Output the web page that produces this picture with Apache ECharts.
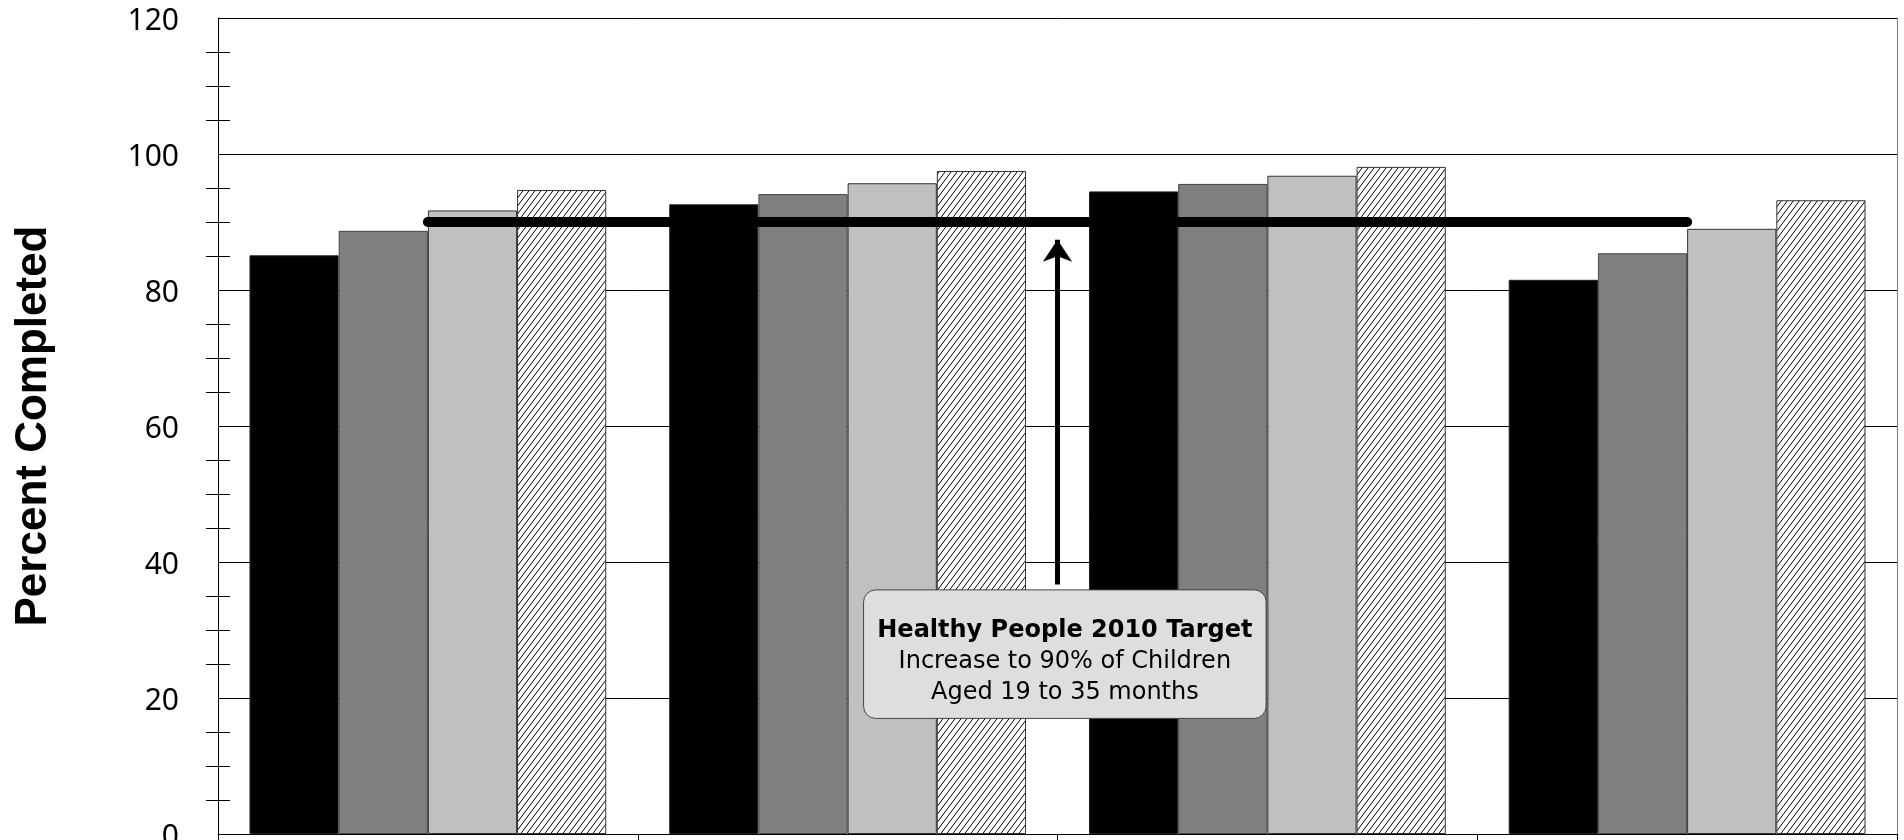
<!DOCTYPE html>
<html><head><meta charset="utf-8">
<script src="https://cdn.jsdelivr.net/npm/echarts@6/dist/echarts.min.js"></script>
<style>html,body{margin:0;padding:0;background:#fff}#c{width:1904px;height:840px}</style>
</head><body><div id="c"></div>
<script>
// ---- data ----
const categories = ['Group 1', 'Group 2', 'Group 3', 'Group 4'];
const seriesNames = ['Series 1', 'Series 2', 'Series 3', 'Series 4'];
const series1 = [85.1, 92.6, 94.5, 81.5];
const series2 = [88.7, 94.1, 95.6, 85.4];
const series3 = [91.7, 95.7, 96.8, 89.0];
const series4 = [94.7, 97.5, 98.1, 93.2];
const targetValues = [90, 90, 90, 90];
const yTickLabels = [0, 20, 40, 60, 80, 100, 120];
// annotation (in axis units)
const arrowX = 2;
const arrowFrom = 36.7;
const arrowTo = 87.4;
const boxX = [1.538, 2.497];
const boxY = [17.0, 35.9];
const noteLines = ['Healthy People 2010 Target', 'Increase to 90% of Children', 'Aged 19 to 35 months'];

function hatch() {
  const w = 6, h = 8;
  const c = document.createElement('canvas');
  c.width = w; c.height = h;
  const g = c.getContext('2d');
  g.fillStyle = '#fff'; g.fillRect(0, 0, w, h);
  g.strokeStyle = '#000'; g.lineWidth = 1;
  for (const o of [-w, 0, w]) { g.beginPath(); g.moveTo(o, h); g.lineTo(o + w, 0); g.stroke(); }
  return c;
}

const chart = echarts.init(document.getElementById('c'), null, { renderer: 'canvas' });
const fills = ['#000000', '#808080', '#c0c0c0', { image: hatch(), repeat: 'repeat' }];
const borders = ['#222', '#444', '#333', '#333'];
const values = [series1, series2, series3, series4];
const yMin = yTickLabels[0], yMax = yTickLabels[yTickLabels.length - 1], yInt = yTickLabels[1] - yTickLabels[0];

const barSeries = values.map((v, i) => ({
  name: seriesNames[i], type: 'bar', data: v,
  barGap: '0%', barCategoryGap: '15%',
  itemStyle: { color: fills[i], borderColor: borders[i], borderWidth: 1 },
  silent: true, z: 2
}));

chart.setOption({
  animation: false,
  grid: { left: 218, top: 18, right: 7, bottom: 6, containLabel: false, outerBoundsMode: 'none' },
  xAxis: [
    { type: 'category', data: categories,
      axisLine: { lineStyle: { color: '#000', width: 1 } },
      axisTick: { show: true, length: 20, lineStyle: { color: '#000' } },
      axisLabel: { show: false }, splitLine: { show: false } },
    { type: 'value', min: 0, max: categories.length, show: false }
  ],
  yAxis: [
    { type: 'value', min: yMin, max: yMax, interval: yInt,
      axisLine: { show: true, lineStyle: { color: '#000' } },
      axisTick: { show: false },
      minorTick: { show: true, splitNumber: 4, length: 12, lineStyle: { color: '#000' } },
      splitLine: { show: true, lineStyle: { color: '#000', width: 1 } },
      axisLabel: { margin: 39, formatter: '{t|{value}}',
        rich: { t: { fontSize: 30, fontFamily: 'Noto Sans', color: '#000', padding: [7, 0, 0, 0] } } },
      name: 'Percent Completed', nameLocation: 'middle', nameRotate: 90, nameGap: 162,
      nameTextStyle: { fontFamily: 'Liberation Sans', fontWeight: 'bold', fontSize: 44, color: '#000' } },
    { type: 'value', min: yMin, max: yMax, interval: yInt, position: 'left', offset: 0,
      axisLine: { show: false }, axisTick: { show: false, inside: true },
      minorTick: { show: true, splitNumber: 4, length: 12, lineStyle: { color: '#000' } },
      splitLine: { show: false }, axisLabel: { show: false } },
    { type: 'value', min: yMin, max: yMax, interval: yInt, position: 'right', offset: 0,
      axisLine: { show: true, lineStyle: { color: '#808080' } }, axisTick: { show: false },
      splitLine: { show: false }, axisLabel: { show: false } }
  ],
  series: barSeries.concat([
    { name: 'Target', type: 'line', data: targetValues, symbol: 'none', silent: true, z: 5,
      lineStyle: { color: '#000', width: 10, cap: 'round' } },
    { name: 'Arrow', type: 'line', xAxisIndex: 1, data: [], silent: true, z: 6,
      markLine: { silent: true, animation: false, symbol: ['none', 'arrow'], symbolSize: [22, 22],
        lineStyle: { color: '#000', width: 5, type: 'solid' }, label: { show: false },
        emphasis: { disabled: true },
        data: [[{ coord: [arrowX, arrowFrom] }, { coord: [arrowX, arrowTo] }]] } }
  ])
});

const f = { xAxisIndex: 1, yAxisIndex: 0 };
const p1 = chart.convertToPixel(f, [boxX[0], boxY[1]]);
const p2 = chart.convertToPixel(f, [boxX[1], boxY[0]]);
chart.setOption({
  graphic: [
    { type: 'rect', z: 100, shape: { x: p1[0], y: p1[1], width: p2[0] - p1[0], height: p2[1] - p1[1], r: 12 },
      style: { fill: '#dedede', stroke: '#444', lineWidth: 1 } },
    { type: 'text', z: 101, x: (p1[0] + p2[0]) / 2, y: (p1[1] + p2[1]) / 2 + 8,
      style: { text: '{b|' + noteLines[0] + '}\n{n|' + noteLines[1] + '}\n{n|' + noteLines[2] + '}',
        align: 'center', verticalAlign: 'middle',
        rich: {
          b: { fontFamily: 'DejaVu Sans', fontWeight: 'bold', fontSize: 24, lineHeight: 31, fill: '#000' },
          n: { fontFamily: 'DejaVu Sans', fontSize: 24, lineHeight: 31, fill: '#000' }
        } } }
  ]
});
</script>
</body></html>
